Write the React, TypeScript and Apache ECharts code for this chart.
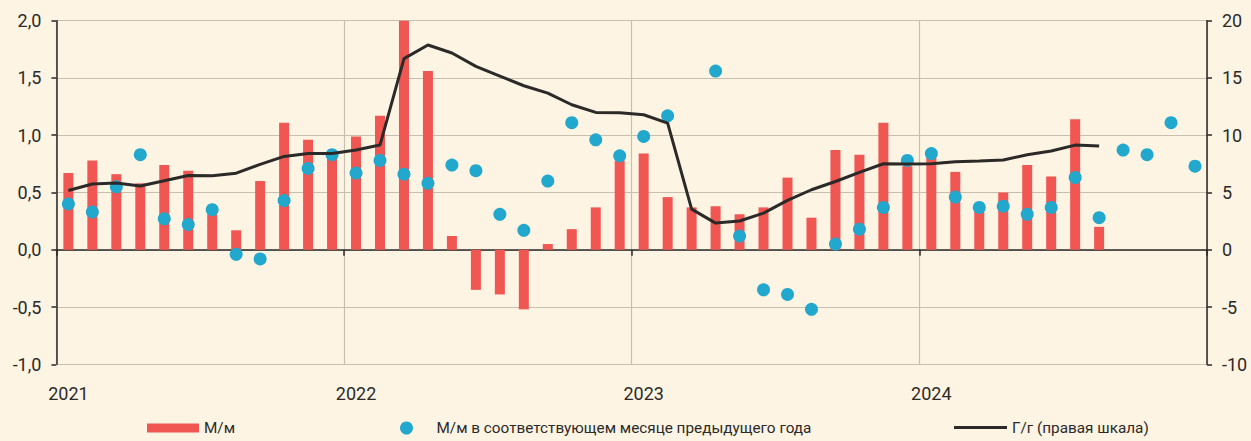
import React, { useEffect, useRef } from "react";
import * as echarts from "echarts";

const years = ["2021", "2022", "2023", "2024"];
const monthNums = ["01", "02", "03", "04", "05", "06", "07", "08", "09", "10", "11", "12"];
const categories: string[] = years.flatMap((y) => monthNums.map((m) => `${y}-${m}`));

// М/м, %
const mmValues: number[] = [
  0.67, 0.78, 0.66, 0.58, 0.74, 0.69, 0.31, 0.17, 0.6, 1.11, 0.96, 0.82,
  0.99, 1.17, 2.0, 1.56, 0.12, -0.35, -0.39, -0.52, 0.05, 0.18, 0.37, 0.78,
  0.84, 0.46, 0.37, 0.38, 0.31, 0.37, 0.63, 0.28, 0.87, 0.83, 1.11, 0.73,
  0.82, 0.68, 0.35, 0.5, 0.74, 0.64, 1.14, 0.2,
];

// М/м в соответствующем месяце предыдущего года, %
const prevYearValues: (number | null)[] = [
  0.4, 0.33, 0.55, 0.83, 0.27, 0.22, 0.35, -0.04, -0.08, 0.43, 0.71, 0.83,
  0.67, 0.78, 0.66, 0.58, 0.74, 0.69, 0.31, 0.17, 0.6, 1.11, 0.96, 0.82,
  0.99, 1.17, null, 1.56, 0.12, -0.35, -0.39, -0.52, 0.05, 0.18, 0.37, 0.78,
  0.84, 0.46, 0.37, 0.38, 0.31, 0.37, 0.63, 0.28, 0.87, 0.83, 1.11, 0.73,
];

// Г/г, % (правая шкала)
const yoyValues: number[] = [
  5.18, 5.74, 5.82, 5.56, 6.03, 6.49, 6.46, 6.69, 7.45, 8.15, 8.41, 8.41,
  8.71, 9.14, 16.69, 17.88, 17.18, 16.01, 15.17, 14.32, 13.68, 12.66, 11.99, 11.97,
  11.79, 11.06, 3.55, 2.33, 2.51, 3.2, 4.31, 5.24, 5.96, 6.75, 7.51, 7.48,
  7.51, 7.69, 7.74, 7.83, 8.3, 8.62, 9.14, 9.05,
];

const NAME_MM = "М/м";
const NAME_PREV = "М/м в соответствующем месяце предыдущего года";
const NAME_YOY = "Г/г (правая шкала)";

const BG = "#fdf4e3";
const RED = "#f05652";
const BLUE = "#22a7cd";
const DARK = "#2b2a28";
const GRID = "#c9bfb1";
const FONT = "Roboto";

export default function App() {
  const ref = useRef<HTMLDivElement>(null);

  useEffect(() => {
    if (!ref.current) return;
    const chart = echarts.init(ref.current, undefined, { renderer: "svg" });
    const legendText = { color: DARK, fontSize: 15.3, fontFamily: FONT, lineHeight: 18 };
    chart.setOption({
      animation: false,
      backgroundColor: BG,
      textStyle: { fontFamily: FONT, color: DARK },
      grid: { left: 56.4, right: 44, top: 20.7, bottom: 76.7, containLabel: false },
      legend: [
        {
          data: [NAME_MM],
          left: 147,
          top: 419,
          padding: 0,
          icon: "rect",
          itemWidth: 52,
          itemHeight: 9,
          textStyle: legendText,
        },
        {
          data: [NAME_PREV],
          left: 400,
          top: 419,
          padding: 0,
          icon: "circle",
          itemWidth: 50,
          itemHeight: 13,
          textStyle: legendText,
        },
        {
          data: [NAME_YOY],
          left: 954,
          top: 418.5,
          padding: 0,
          icon: "rect",
          itemWidth: 53,
          itemHeight: 3,
          textStyle: legendText,
        },
      ],
      xAxis: [
        {
          type: "category",
          data: categories,
          position: "bottom",
          boundaryGap: true,
          axisLine: { show: false, onZero: false },
          axisTick: { show: false },
          axisLabel: {
            interval: 11,
            margin: 20,
            fontSize: 18,
            color: DARK,
            fontFamily: FONT,
            formatter: (v: string) => (v.endsWith("-01") ? v.slice(0, 4) : ""),
          },
          splitLine: { show: true, interval: 11, lineStyle: { color: GRID, width: 1.2 } },
        },
        {
          type: "category",
          data: categories,
          position: "bottom",
          boundaryGap: true,
          axisLine: { show: true, onZero: true, onZeroAxisIndex: 0, lineStyle: { color: DARK, width: 1.5 } },
          axisTick: { show: true, interval: 11, length: 6, lineStyle: { color: DARK, width: 1.5 } },
          axisLabel: { show: false },
          splitLine: { show: false },
        },
      ],
      yAxis: [
        {
          type: "value",
          min: -1,
          max: 2,
          interval: 0.5,
          position: "left",
          axisLine: { show: true, lineStyle: { color: DARK, width: 1.5 } },
          axisTick: { show: true, length: 5, lineStyle: { color: DARK, width: 1.5 } },
          axisLabel: {
            margin: 15,
            fontSize: 18,
            color: DARK,
            fontFamily: FONT,
            formatter: (v: number) => v.toFixed(1).replace(".", ","),
          },
          splitLine: { show: true, lineStyle: { color: GRID, width: 1.2 } },
        },
        {
          type: "value",
          min: -10,
          max: 20,
          interval: 5,
          position: "right",
          axisLine: { show: true, lineStyle: { color: DARK, width: 1.5 } },
          axisTick: { show: true, length: 5, lineStyle: { color: DARK, width: 1.5 } },
          axisLabel: { margin: 15, fontSize: 18, color: DARK, fontFamily: FONT },
          splitLine: { show: false },
        },
      ],
      series: [
        {
          name: NAME_MM,
          type: "bar",
          xAxisIndex: 0,
          yAxisIndex: 0,
          data: mmValues,
          barWidth: 10,
          itemStyle: { color: RED },
          clip: true,
        },
        {
          name: NAME_YOY,
          type: "line",
          xAxisIndex: 0,
          yAxisIndex: 1,
          data: yoyValues,
          showSymbol: false,
          symbol: "none",
          lineStyle: { color: DARK, width: 3 },
          itemStyle: { color: DARK },
        },
        {
          name: NAME_PREV,
          type: "scatter",
          xAxisIndex: 0,
          yAxisIndex: 0,
          data: prevYearValues,
          symbol: "circle",
          symbolSize: 13,
          itemStyle: { color: BLUE, opacity: 1 },
          clip: true,
        },
      ],
    });
    return () => chart.dispose();
  }, []);

  return (
    <div
      ref={ref}
      style={{ position: "absolute", left: 0, top: 0, width: 1251, height: 441 }}
    />
  );
}
